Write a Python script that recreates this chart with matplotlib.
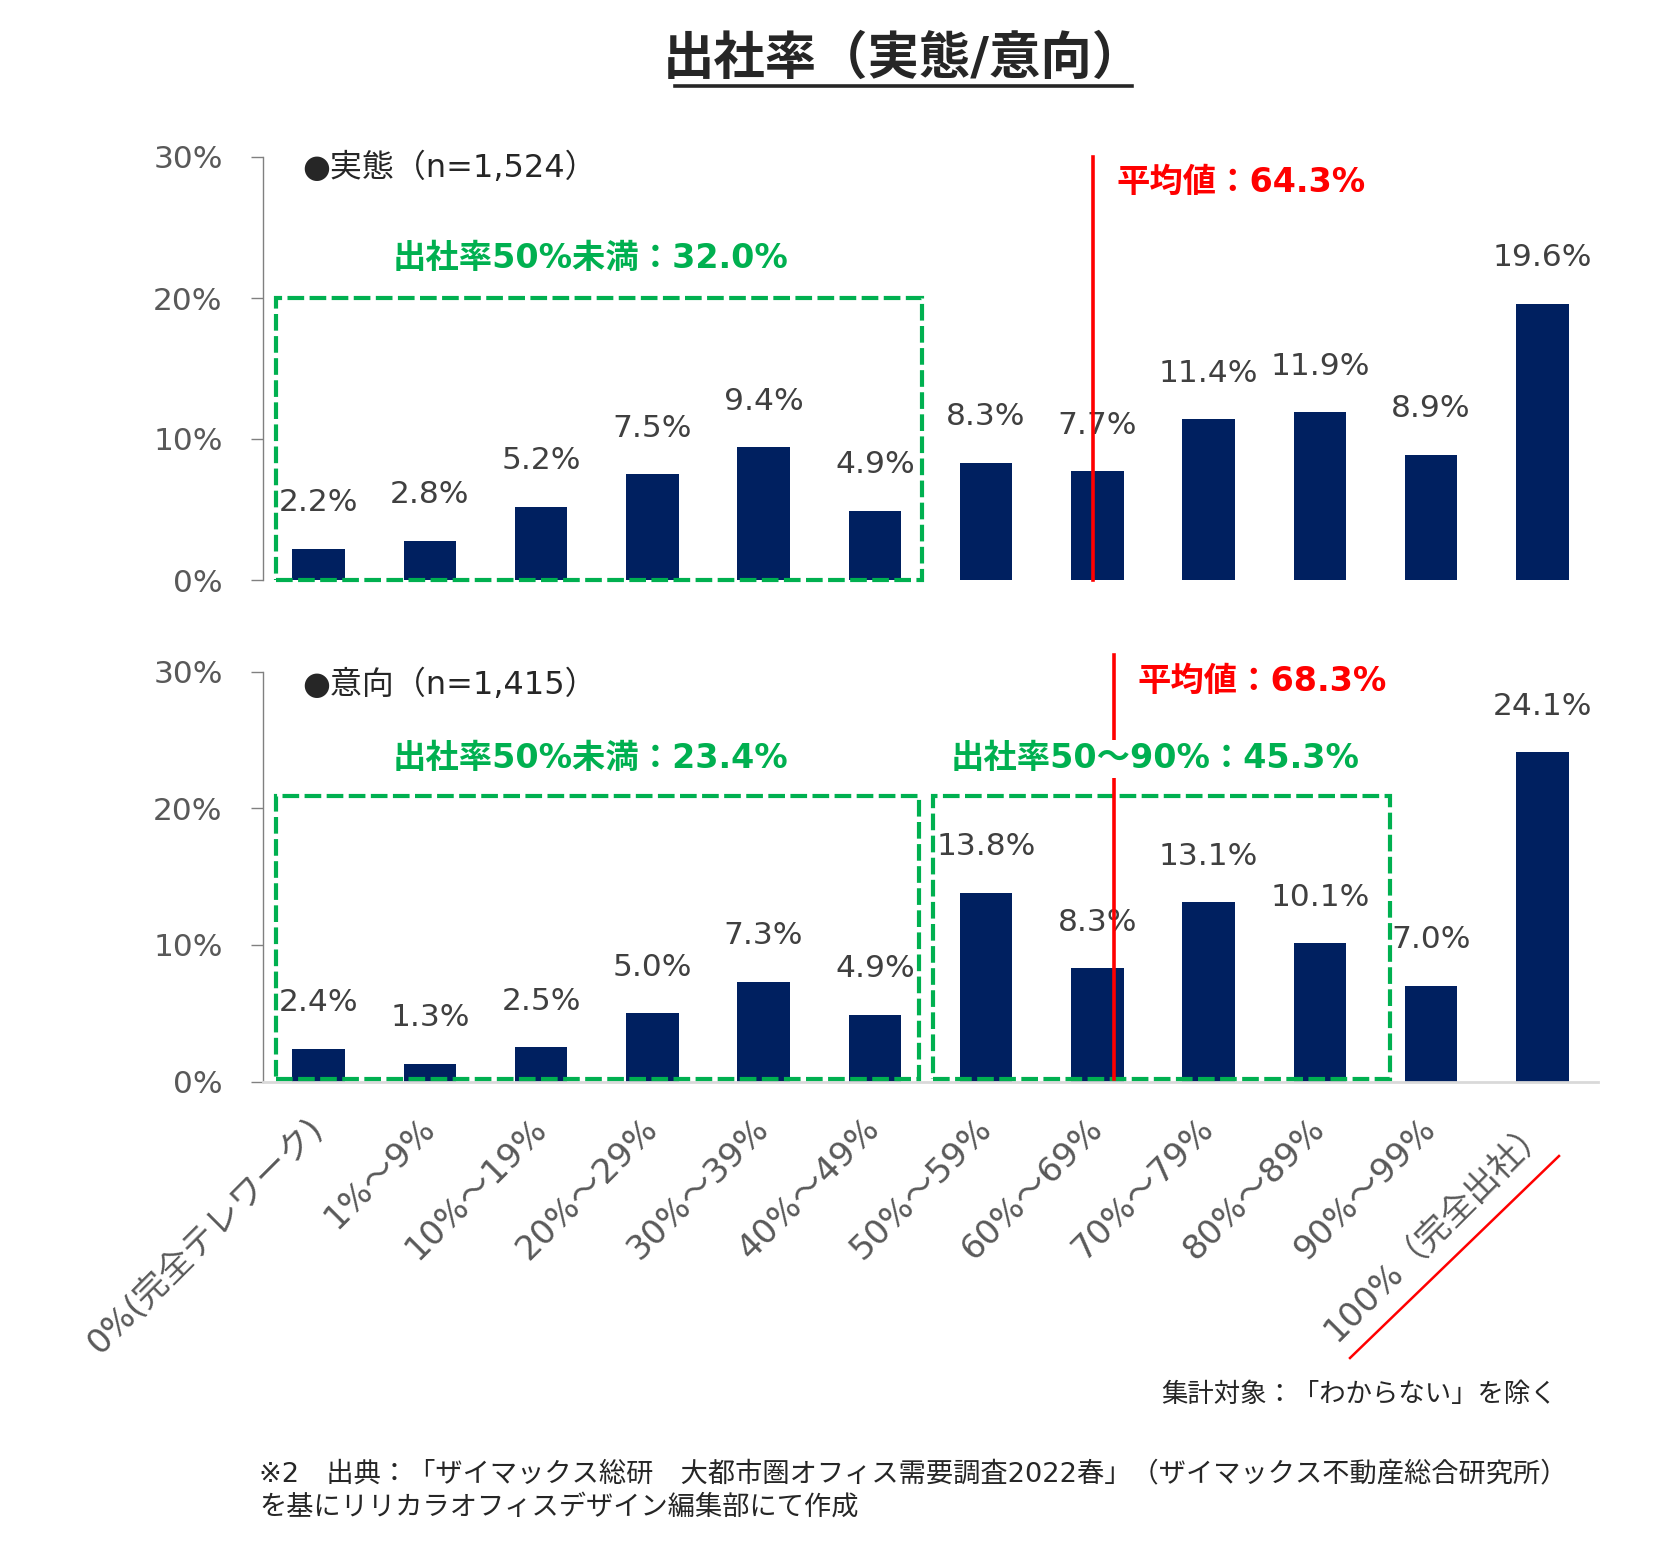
import matplotlib
matplotlib.use("Agg")
import matplotlib.pyplot as plt
from matplotlib.patches import Rectangle
from matplotlib.lines import Line2D
from matplotlib.ticker import FuncFormatter

plt.rcParams['font.family'] = ['DejaVu Sans', 'Noto Sans CJK JP']

categories = ["0%(完全テレワーク)", "1%〜9%", "10%〜19%", "20%〜29%", "30%〜39%", "40%〜49%",
              "50%〜59%", "60%〜69%", "70%〜79%", "80%〜89%", "90%〜99%", "100%（完全出社）"]
actual = [2.2, 2.8, 5.2, 7.5, 9.4, 4.9, 8.3, 7.7, 11.4, 11.9, 8.9, 19.6]
intent = [2.4, 1.3, 2.5, 5.0, 7.3, 4.9, 13.8, 8.3, 13.1, 10.1, 7.0, 24.1]
yticks = [0, 10, 20, 30]
title = "出社率（実態/意向）"
label_actual = "●実態（n=1,524）"
label_intent = "●意向（n=1,415）"
mean_actual = "平均値：64.3%"
mean_intent = "平均値：68.3%"
under50_actual = "出社率50%未満：32.0%"
under50_intent = "出社率50%未満：23.4%"
mid_intent = "出社率50〜90%：45.3%"
note = "集計対象：「わからない」を除く"
source1 = "※2　出典：「ザイマックス総研　大都市圏オフィス需要調査2022春」（ザイマックス不動産総合研究所）"
source2 = "を基にリリカラオフィスデザイン編集部にて作成"

NAVY = "#002060"
GREEN = "#00B050"
RED = "#FF0000"
TICKC = "#595959"
LABC = "#404040"

W, H = 1674, 1550
fig = plt.figure(figsize=(W / 100, H / 100), dpi=100)

def fx(px):
    return px / W

def fy(py):
    return 1 - py / H

ax1 = fig.add_axes([fx(263), fy(580), fx(1598) - fx(263), fy(157) - fy(580)])
ax2 = fig.add_axes([fx(263), fy(1081.5), fx(1598) - fx(263), fy(671.5) - fy(1081.5)])

x = list(range(len(categories)))
pct = FuncFormatter(lambda v, p: f"{v:.0f}%")

for ax, vals in ((ax1, actual), (ax2, intent)):
    ax.bar(x, vals, width=0.47, color=NAVY, zorder=2)
    ax.set_xlim(-0.5, len(categories) - 0.5)
    ax.set_ylim(0, 30)
    ax.set_yticks(yticks)
    ax.yaxis.set_major_formatter(pct)
    ax.tick_params(axis='y', length=9, width=1, color="#808080", colors=TICKC,
                   labelsize=22.5, pad=20)
    for s in ("top", "right"):
        ax.spines[s].set_visible(False)
    ax.spines["left"].set_color("#808080")
    ax.spines["left"].set_linewidth(1)
    for xi, v in zip(x, vals):
        ax.annotate(f"{v:.1f}%", (xi, v), xytext=(0, 46), textcoords="offset pixels",
                    ha="center", va="center", fontsize=22.5, color=LABC, zorder=1)

ax1.spines["bottom"].set_visible(False)
ax1.set_xticks([])
ax2.spines["bottom"].set_color("#D9D9D9")
ax2.spines["bottom"].set_linewidth(2)
ax2.set_xticks(x)
ax2.set_xticklabels(categories, rotation=45, ha="right", va="center",
                    rotation_mode="anchor", fontsize=24.5, color=TICKC)
ax2.tick_params(axis='x', length=0, pad=30)

dash = (0, (4.0, 1.3))
GLW = 3.0
# top panel annotations
ax1.add_patch(Rectangle((-0.383, 0), 5.42 + 0.383, 20, fill=False, edgecolor=GREEN,
                        lw=GLW, linestyle=dash, clip_on=False, zorder=3))
ax1.plot([6.96, 6.96], [0, 30], color=RED, lw=2.6, clip_on=False, zorder=4)
ax1.text(-0.15, 29.2, label_actual, ha="left", va="center", fontsize=23, color="#262626")
ax1.text(2.44, 22.8, under50_actual, ha="center", va="center", fontsize=24,
         fontweight="bold", color=GREEN)
ax1.text(7.17, 28.2, mean_actual, ha="left", va="center", fontsize=24,
         fontweight="bold", color=RED)

# bottom panel annotations
ax2.add_patch(Rectangle((-0.383, 0.2), 5.40 + 0.383, 20.7, fill=False, edgecolor=GREEN,
                        lw=GLW, linestyle=dash, clip_on=False, zorder=3))
ax2.add_patch(Rectangle((5.52, 0.2), 9.63 - 5.52, 20.7, fill=False, edgecolor=GREEN,
                        lw=GLW, linestyle=dash, clip_on=False, zorder=3))
ax2.plot([7.15, 7.15], [0.2, 31.2], color=RED, lw=2.6, clip_on=False, zorder=4)
ax2.text(-0.15, 29.0, label_intent, ha="left", va="center", fontsize=23, color="#262626")
ax2.text(7.36, 29.3, mean_intent, ha="left", va="center", fontsize=24,
         fontweight="bold", color=RED)
ax2.text(2.44, 23.6, under50_intent, ha="center", va="center", fontsize=24,
         fontweight="bold", color=GREEN)
ax2.text(7.52, 23.6, mid_intent, ha="center", va="center", fontsize=24,
         fontweight="bold", color=GREEN, zorder=6,
         bbox=dict(facecolor="white", edgecolor="none", pad=2))

# title
fig.text(fx(903), fy(60), title, ha="center", va="center", fontsize=37,
         fontweight="bold", color="#262626")
fig.add_artist(Line2D([fx(675), fx(1132)], [fy(86), fy(86)], color="#262626", lw=2.6))

# red diagonal under last label
fig.add_artist(Line2D([fx(1350), fx(1559)], [fy(1358), fy(1156)], color=RED, lw=1.8))

fig.text(fx(1557), fy(1395), note, ha="right", va="center", fontsize=19, color="#262626")
fig.text(fx(259), fy(1474), source1, ha="left", va="center", fontsize=19.6, color="#262626")
fig.text(fx(259), fy(1508), source2, ha="left", va="center", fontsize=19.6, color="#262626")

fig.savefig("out.png", dpi=100, facecolor="white")
